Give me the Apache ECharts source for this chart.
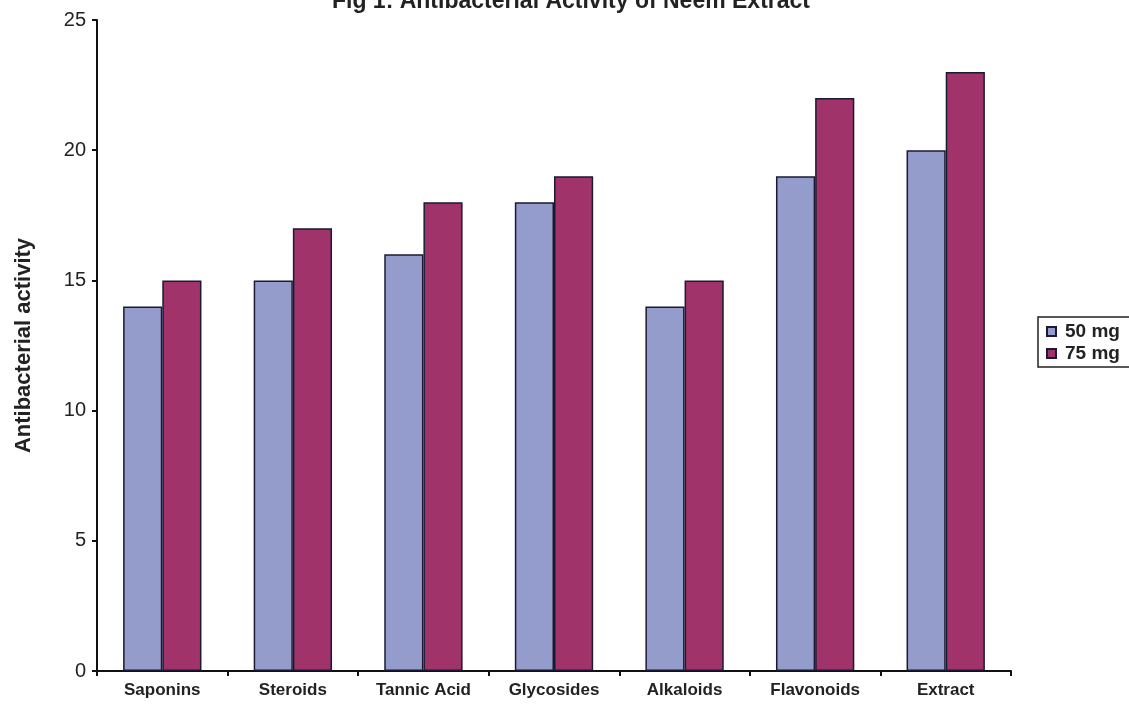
<!DOCTYPE html>
<html><head><meta charset="utf-8">
<script src="https://cdn.jsdelivr.net/npm/echarts@6/dist/echarts.min.js"></script>
<style>html,body{margin:0;padding:0;background:#fff}#c{width:1129px;height:704px}</style>
</head><body><div id="c"></div>
<script>
const categories = ["Saponins","Steroids","Tannic Acid","Glycosides","Alkaloids","Flavonoids","Extract"];
const mg50 = [14,15,16,18,14,19,20];
const mg75 = [15,17,18,19,15,22,23];
const yTicks = [0,5,10,15,20,25];
const chart = echarts.init(document.getElementById('c'));
const F = 'Liberation Sans, Arial, sans-serif';
chart.setOption({
  animation:false,
  title:{text:'Fig 1: Antibacterial Activity of Neem Extract',left:566,textAlign:'center',top:-15,
    textStyle:{fontFamily:F,fontSize:23,fontWeight:'bold',color:'#222'}},
  grid:{left:97,top:20,right:118,bottom:33},
  legend:{orient:'vertical',left:1038,top:317,itemWidth:9,itemHeight:9,itemGap:3,
    borderColor:'#222',borderWidth:1.5,padding:[5,20,4,8],
    textStyle:{fontFamily:F,fontSize:19,fontWeight:'bold',color:'#222',padding:[0,0,0,4]},
    data:[{name:'50 mg',icon:'rect'},{name:'75 mg',icon:'rect'}]},
  xAxis:{type:'category',data:categories,
    axisLine:{lineStyle:{color:'#111',width:2}},
    axisTick:{show:true,length:5,lineStyle:{color:'#111',width:2}},
    axisLabel:{fontFamily:F,fontSize:17,fontWeight:'bold',color:'#222',margin:11}},
  yAxis:{type:'value',min:0,max:25,interval:5,
    name:'Antibacterial activity',nameLocation:'middle',nameGap:62,nameRotate:90,
    nameTextStyle:{fontFamily:F,fontSize:22,fontWeight:'bold',color:'#222'},
    axisLine:{show:true,lineStyle:{color:'#111',width:2}},
    axisTick:{show:true,length:5,lineStyle:{color:'#111',width:2}},
    splitLine:{show:false},
    axisLabel:{fontFamily:F,fontSize:20,color:'#222',margin:11,
      formatter:v=>yTicks.includes(v)?String(v):''}},
  series:[
    {name:'50 mg',type:'bar',data:mg50,barGap:'0%',barCategoryGap:'40%',
      itemStyle:{color:'#949CCB',borderColor:'#1a1a33',borderWidth:1.5}},
    {name:'75 mg',type:'bar',data:mg75,
      itemStyle:{color:'#A0336A',borderColor:'#1a1a33',borderWidth:1.5}}
  ]
});
</script></body></html>
